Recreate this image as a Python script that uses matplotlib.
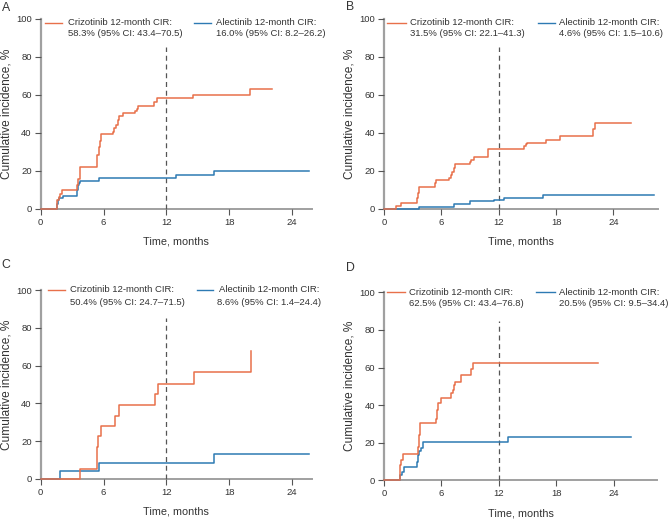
import matplotlib
matplotlib.use("Agg")
import matplotlib.pyplot as plt
from matplotlib.lines import Line2D

plt.rcParams['font.family'] = ['Liberation Sans', 'DejaVu Sans']

# ---------------- data ----------------
panel_labels = ["A", "B", "C", "D"]

# Panel A
a_criz_t = [1.59, 1.7, 1.85, 2.03, 3.43, 3.6, 3.78, 5.4, 5.55, 5.7, 5.79, 6.87, 7.0, 7.2, 7.35,
            7.5, 7.88, 9.0, 9.15, 9.32, 10.8, 11.1, 14.5, 19.96]
a_criz_v = [4.6, 6.3, 7.6, 9.8, 12.5, 15.5, 22.1, 28.3, 32.7, 35.9, 39.2, 40.6, 42.4, 44.1, 46.7,
            49.0, 50.2, 51.5, 52.8, 54.3, 56.2, 58.3, 60.1, 62.9]
a_criz_end = 22.1
a_alec_t = [1.52, 1.65, 1.78, 2.1, 3.43, 3.55, 3.65, 3.78, 5.53, 12.9, 16.54]
a_alec_v = [2.5, 4.5, 5.4, 6.7, 9.8, 12.5, 13.7, 14.6, 16.0, 17.8, 19.7]
a_alec_end = 25.6
a_criz_text = ["Crizotinib 12-month CIR:", "58.3% (95% CI: 43.4\u201370.5)"]
a_alec_text = ["Alectinib 12-month CIR:", "16.0% (95% CI: 8.2\u201326.2)"]

# Panel B
b_criz_t = [1.22, 1.74, 3.42, 3.56, 3.7, 5.33, 5.44, 6.8, 6.97, 7.15, 7.32, 7.46, 9.0, 9.15, 9.4,
            10.88, 14.6, 14.8, 15.0, 16.95, 18.45, 21.9, 22.1]
b_criz_v = [1.4, 3.2, 5.4, 8.5, 11.2, 13.4, 15.1, 16.0, 17.8, 19.5, 21.3, 23.5, 24.8, 25.7, 27.1,
            31.5, 33.3, 34.3, 34.8, 36.2, 38.3, 41.8, 45.0]
b_criz_end = 25.8
b_alec_t = [3.66, 7.32, 9.0, 11.5, 12.6, 16.6]
b_alec_v = [1.05, 2.3, 4.0, 4.6, 5.6, 7.2]
b_alec_end = 28.2
b_criz_text = ["Crizotinib 12-month CIR:", "31.5% (95% CI: 22.1\u201341.3)"]
b_alec_text = ["Alectinib 12-month CIR:", "4.6% (95% CI: 1.5\u201310.6)"]

# Panel C
c_criz_t = [3.75, 5.34, 5.47, 5.75, 7.12, 7.44, 10.94, 11.2, 14.66, 20.1]
c_criz_v = [5.1, 17.0, 23.0, 28.0, 33.3, 39.3, 45.0, 50.4, 56.6, 67.8]
c_criz_end = 20.1
c_alec_t = [1.84, 5.6, 16.54]
c_alec_v = [4.4, 8.6, 13.05]
c_alec_end = 25.63
c_criz_text = ["Crizotinib 12-month CIR:", "50.4% (95% CI: 24.7\u201371.5)"]
c_alec_text = ["Alectinib 12-month CIR:", "8.6% (95% CI: 1.4\u201324.4)"]

# Panel D
d_criz_t = [1.67, 1.74, 1.95, 3.55, 3.62, 3.76, 5.39, 5.56, 5.67, 5.91, 6.96, 7.17, 7.3, 7.44,
            8.07, 9.04, 9.29]
d_criz_v = [8.2, 10.8, 13.8, 17.9, 24.0, 30.3, 32.4, 37.4, 41.3, 44.0, 46.3, 48.0, 50.5, 52.5,
            55.9, 59.0, 62.2]
d_criz_end = 22.3
d_alec_t = [1.67, 1.88, 2.09, 3.48, 3.58, 3.69, 3.83, 4.03, 12.94]
d_alec_v = [2.8, 4.6, 7.3, 10.0, 13.5, 15.8, 17.0, 20.5, 22.9]
d_alec_end = 25.8
d_criz_text = ["Crizotinib 12-month CIR:", "62.5% (95% CI: 43.4\u201376.8)"]
d_alec_text = ["Alectinib 12-month CIR:", "20.5% (95% CI: 9.5\u201334.4)"]

x_ticks = [0, 6, 12, 18, 24]
y_ticks = [0, 20, 40, 60, 80, 100]
landmark = 12
landmark_top = 85
x_label = "Time, months"
y_label = "Cumulative incidence, %"

# ---------------- styling ----------------
ORANGE = '#E8704A'
BLUE = '#2D7AB3'
SPINE = '#a0a0a0'
TXT = '#333333'

W, H = 668, 519
fig = plt.figure(figsize=(W / 100, H / 100), dpi=100)

# axes boxes in pixel coordinates: left, right, y_of_0, y_of_100, xmax
boxes = [
    (40.7, 311.7, 208.7, 19.0, 25.86),
    (384.0, 658.4, 208.7, 19.0, 28.7),
    (40.7, 311.7, 479.0, 290.0, 25.86),
    (384.0, 657.1, 480.3, 292.3, 28.5),
]
letter_pos = [(2, 2), (346, 1), (1, 259), (346, 262)]

panels = [
    (a_criz_t, a_criz_v, a_criz_end, a_alec_t, a_alec_v, a_alec_end, a_criz_text, a_alec_text),
    (b_criz_t, b_criz_v, b_criz_end, b_alec_t, b_alec_v, b_alec_end, b_criz_text, b_alec_text),
    (c_criz_t, c_criz_v, c_criz_end, c_alec_t, c_alec_v, c_alec_end, c_criz_text, c_alec_text),
    (d_criz_t, d_criz_v, d_criz_end, d_alec_t, d_alec_v, d_alec_end, d_criz_text, d_alec_text),
]

# legend layout in pixels: (orange sample x0, x1, text x), (blue sample x0, x1, text x), line1 y, line2 y
legend_px = [
    ((45, 62, 68), (194.3, 211, 216), 22.7, 33.3, 'left'),
    ((387.3, 405.7, 410), (538, 554.7, 559), 22.7, 33.3, 'left'),
    ((47.7, 65.3, 70), (196.7, 213.3, 269.2), 290.0, 302.3, 'center'),
    ((387.3, 405, 409.3), (536.3, 554.7, 559), 292.3, 304.0, 'left'),
]


def stair(times, values, end):
    xs = [0] + list(times) + [end]
    ys = [0] + list(values) + [values[-1]]
    return xs, ys


for i, (box, pdata, leg, lab, lpos) in enumerate(zip(boxes, panels, legend_px, panel_labels, letter_pos)):
    left, right, y0, y100, xmax = box
    ax = fig.add_axes([left / W, 1 - y0 / H, (right - left) / W, (y0 - y100) / H])
    ct, cv, cend, at, av, aend, ctext, atext = pdata

    ax.set_xlim(0, xmax)
    ax.set_ylim(0, 100)

    ax.axvline(landmark, ymin=0, ymax=landmark_top / 100, color='#555555', lw=0.9,
               dashes=(4, 3), zorder=1)

    xs, ys = stair(at, av, aend)
    ax.step(xs, ys, where='post', color=BLUE, lw=1.1, zorder=3, clip_on=False)
    xs, ys = stair(ct, cv, cend)
    ax.step(xs, ys, where='post', color=ORANGE, lw=1.1, zorder=4, clip_on=False)

    for s in ['top', 'right']:
        ax.spines[s].set_visible(False)
    ax.spines['left'].set_color(SPINE)
    ax.spines['left'].set_linewidth(1.6)
    ax.spines['bottom'].set_color(SPINE)
    ax.spines['bottom'].set_linewidth(1.4)
    ax.spines['left'].set_zorder(0)
    ax.spines['bottom'].set_zorder(0)

    ax.set_xticks(x_ticks)
    ax.set_yticks(y_ticks)
    ax.tick_params(direction='out', length=4, width=0.8, color='#555555',
                   labelsize=6.8, labelcolor=TXT, pad=2.5)

    wpx = right - left
    hpx = y0 - y100
    ax.set_xlabel(x_label, fontsize=7.8, color=TXT)
    ax.xaxis.label.set_verticalalignment('center')
    ax.xaxis.set_label_coords(0.5, -33.0 / hpx)
    ax.set_ylabel(y_label, fontsize=8.6, color=TXT)
    ax.yaxis.label.set_verticalalignment('center')
    ax.yaxis.set_label_coords(-34.5 / wpx, 0.5)

    # legend drawn in figure pixel coordinates
    (ox0, ox1, otx), (bx0, bx1, btx), ly1, ly2, balign = leg
    fig.add_artist(Line2D([ox0 / W, ox1 / W], [1 - ly1 / H, 1 - ly1 / H], color=ORANGE, lw=1.0))
    fig.add_artist(Line2D([bx0 / W, bx1 / W], [1 - ly1 / H, 1 - ly1 / H], color=BLUE, lw=1.0))
    fig.text(otx / W, 1 - ly1 / H, ctext[0], fontsize=6.8, color=TXT, ha='left', va='center')
    fig.text(otx / W, 1 - ly2 / H, ctext[1], fontsize=6.8, color=TXT, ha='left', va='center')
    fig.text(btx / W, 1 - ly1 / H, atext[0], fontsize=6.8, color=TXT, ha=balign, va='center')
    fig.text(btx / W, 1 - ly2 / H, atext[1], fontsize=6.8, color=TXT, ha=balign, va='center')

    fig.text(lpos[0] / W, 1 - lpos[1] / H, lab, fontsize=8.8, color=TXT, ha='left', va='top')

fig.savefig("out.png", dpi=100)
